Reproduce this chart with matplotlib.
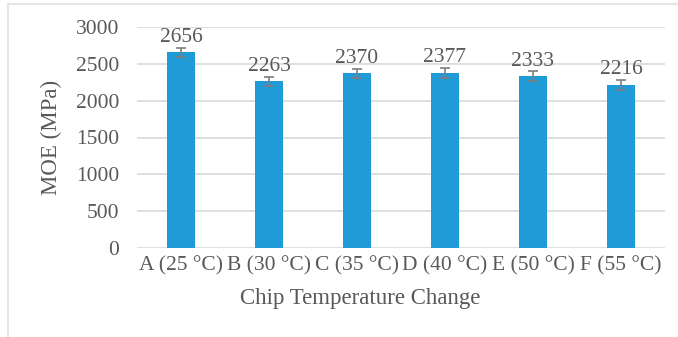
import numpy as np
import matplotlib.pyplot as plt
from matplotlib.lines import Line2D

# data
categories = ['A (25 °C)', 'B (30 °C)', 'C (35 °C)', 'D (40 °C)', 'E (50 °C)', 'F (55 °C)']
moe_values = [2656, 2263, 2370, 2377, 2333, 2216]
moe_errors = [65, 65, 65, 65, 65, 65]

plt.rcParams['font.family'] = ['Liberation Serif', 'DejaVu Serif']
text_col = '#595959'
bar_col = '#1f9bd7'
grid_col = '#d9d9d9'

fig = plt.figure(figsize=(6.78, 3.37), dpi=100)
ax = fig.add_axes([137 / 678, 1 - 248 / 337, 528 / 678, 221 / 337])

x = np.arange(len(categories))
ax.bar(x, moe_values, width=0.32, color=bar_col, zorder=3,
       yerr=moe_errors, error_kw=dict(ecolor='#7f7f7f', elinewidth=1.2, capsize=3.5, capthick=1.2))

for xi, v in zip(x, moe_values):
    ax.annotate(str(v), (xi, v), xytext=(0, 4), textcoords='offset points',
                ha='center', va='bottom', fontsize=15.5, color=text_col)

ax.set_xlim(-0.5, len(categories) - 0.5)
ax.set_ylim(0, 3000)
ax.set_yticks(np.arange(0, 3001, 500))
ax.set_xticks(x)
ax.set_xticklabels(categories)
ax.tick_params(length=0, labelsize=15.5, labelcolor=text_col)
ax.tick_params(axis='y', pad=13)
ax.tick_params(axis='x', pad=6)
ax.yaxis.grid(True, color=grid_col, linewidth=1.2, zorder=0)
for s in ax.spines.values():
    s.set_visible(False)

ax.set_ylabel('MOE (MPa)', fontsize=16.5, color=text_col, labelpad=10)
ax.set_xlabel('Chip Temperature Change', fontsize=16.5, color=text_col, labelpad=8)
ax.xaxis.set_label_coords((360 - 137) / 528, -0.18)

# light frame around the chart area, as in the source
fig.add_artist(Line2D([8 / 678, 8 / 678], [0, 1 - 4 / 337], color='#e6e6e6', lw=1.5))
fig.add_artist(Line2D([8 / 678, 1], [1 - 4 / 337, 1 - 4 / 337], color='#e6e6e6', lw=1.5))

fig.savefig('out.png', dpi=100)
